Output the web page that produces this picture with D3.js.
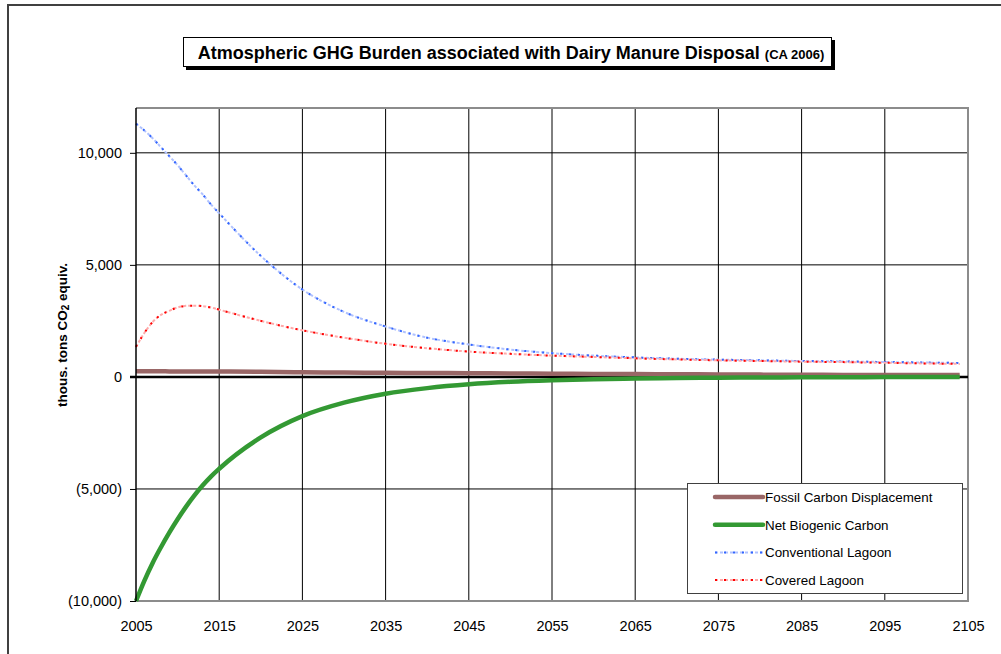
<!DOCTYPE html>
<html>
<head>
<meta charset="utf-8">
<script src="https://d3js.org/d3.v7.min.js"></script>
<style>
  body { margin: 0; background: #fff; }
  svg { display: block; font-family: Arial, "Liberation Sans", sans-serif; }
</style>
</head>
<body>
<svg id="chart" width="1001" height="654"></svg>
<script>
'use strict';

// values (thous. tons CO2 equiv.)
var years = [2005, 2006, 2007, 2008, 2009, 2010, 2011, 2012, 2013, 2014, 2015,
    2020, 2025, 2030, 2035, 2040, 2045, 2050, 2055, 2060, 2065, 2070, 2075,
    2080, 2085, 2090, 2095, 2100, 2104]

var fossilCarbon = [250, 250, 248, 248, 246, 245, 244, 243, 242, 241, 240,
    225, 205, 195, 185, 175, 165, 155, 145, 135, 125, 118, 110,
    102, 96, 90, 86, 82, 80]

var netBiogenic = [-10000, -9100, -8300, -7600, -6950, -6350, -5800, -5300, -4850, -4450, -4100,
    -2700, -1750, -1150, -750, -500, -330, -220, -150, -100, -70, -50, -35,
    -25, -18, -12, -8, -5, -3]

var conventionalLagoon = [11300, 11000, 10650, 10250, 9850, 9450, 9000, 8550, 8150, 7700, 7300,
    5400, 3900, 2900, 2250, 1750, 1450, 1220, 1060, 950, 870, 810, 770,
    740, 710, 690, 665, 640, 620]

var coveredLagoon = [1340, 1960, 2450, 2770, 2950, 3100, 3170, 3180, 3160, 3100, 3000,
    2500, 2080, 1750, 1480, 1280, 1130, 1030, 950, 890, 830, 780, 740,
    710, 680, 660, 630, 600, 580]

var xTicks = [2005, 2015, 2025, 2035, 2045, 2055, 2065, 2075, 2085, 2095, 2105]
var yTicks = [-10000, -5000, 0, 5000, 10000]

var chartTitle = 'Atmospheric GHG Burden associated with Dairy Manure Disposal'
var chartSubTitle = '(CA 2006)'

var seriesList = [
    { name: 'Fossil Carbon Displacement', values: fossilCarbon, color: '#996666', width: 4.5 },
    { name: 'Net Biogenic Carbon', values: netBiogenic, color: '#339933', width: 4.5 },
    { name: 'Conventional Lagoon', values: conventionalLagoon, color: '#3366ff', light: '#b0c2ff', width: 2 },
    { name: 'Covered Lagoon', values: coveredLagoon, color: '#ff0000', light: '#ffaaaa', width: 2 }
]

var svg = d3.select('#chart')
var plot = { left: 136, right: 968, top: 108, bottom: 601 }

var x = d3.scaleLinear().domain([2005, 2105]).range([plot.left, plot.right])
var y = d3.scaleLinear().domain([-10000, 12000]).range([plot.bottom, plot.top])

function formatValue(v) {
    var s = d3.format(',')(Math.abs(v))
    return v < 0 ? '(' + s + ')' : s
}

function drawFrame() {
    // outer chart border (runs off the right and bottom of the picture)
    svg.append('rect')
        .attr('x', 8).attr('y', 5)
        .attr('width', 1010).attr('height', 670)
        .attr('fill', 'none')
        .attr('stroke', '#404040')
        .attr('stroke-width', 2)

    // title box with shadow
    svg.append('rect')
        .attr('x', 186).attr('y', 40)
        .attr('width', 649).attr('height', 30)
        .attr('fill', '#000')
    svg.append('rect')
        .attr('x', 183.5).attr('y', 37.5)
        .attr('width', 648).attr('height', 29)
        .attr('fill', '#fff')
        .attr('stroke', '#000')
        .attr('stroke-width', 1)

    var title = svg.append('text')
        .attr('x', 511).attr('y', 58.5)
        .attr('text-anchor', 'middle')
        .attr('font-weight', 'bold')
        .attr('font-size', 18)
        .attr('fill', '#000')
    title.append('tspan').text(chartTitle + ' ')
    title.append('tspan').attr('font-size', 13).text(chartSubTitle)
}

function drawGrid() {
    var g = svg.append('g')

    g.selectAll('line.vgrid')
        .data(xTicks.slice(1, -1))
        .enter().append('line')
        .attr('class', 'vgrid')
        .attr('x1', function(d) { return x(d) }).attr('x2', function(d) { return x(d) })
        .attr('y1', plot.top).attr('y2', plot.bottom)
        .attr('stroke', '#000')
        .attr('stroke-width', 1)

    g.selectAll('line.hgrid')
        .data([-5000, 5000, 10000])
        .enter().append('line')
        .attr('class', 'hgrid')
        .attr('x1', plot.left).attr('x2', plot.right)
        .attr('y1', function(d) { return y(d) }).attr('y2', function(d) { return y(d) })
        .attr('stroke', '#000')
        .attr('stroke-width', 1)

    // top / right / bottom plot border in grey
    g.append('path')
        .attr('d', 'M' + plot.left + ',' + plot.top + 'H' + plot.right + 'V' + plot.bottom + 'H' + plot.left)
        .attr('fill', 'none')
        .attr('stroke', '#8c8c8c')
        .attr('stroke-width', 2)
}

function drawAxes() {
    var yAxis = svg.append('g')
        .attr('transform', 'translate(' + plot.left + ',0)')
        .call(d3.axisLeft(y).tickValues(yTicks).tickSize(6).tickPadding(8).tickFormat(formatValue))
    yAxis.select('.domain').remove()
    yAxis.selectAll('.tick line').attr('stroke', '#000')
    yAxis.selectAll('.tick text')
        .attr('font-size', 14.5)
        .attr('font-family', 'Arial, "Liberation Sans", sans-serif')
        .attr('fill', '#000')

    svg.append('line')
        .attr('x1', plot.left).attr('x2', plot.left)
        .attr('y1', plot.top).attr('y2', plot.bottom)
        .attr('stroke', '#000')
        .attr('stroke-width', 1.5)

    var xAxis = svg.append('g')
        .attr('transform', 'translate(0,' + plot.bottom + ')')
        .call(d3.axisBottom(x).tickValues(xTicks).tickSize(0).tickPadding(20).tickFormat(d3.format('d')))
    xAxis.select('.domain').remove()
    xAxis.selectAll('.tick text')
        .attr('font-size', 14.5)
        .attr('font-family', 'Arial, "Liberation Sans", sans-serif')
        .attr('fill', '#000')

    var label = svg.append('text')
        .attr('transform', 'translate(67,335) rotate(-90)')
        .attr('text-anchor', 'middle')
        .attr('font-weight', 'bold')
        .attr('font-size', 13.5)
        .attr('fill', '#000')
    label.append('tspan').text('thous. tons CO')
    label.append('tspan').attr('font-size', 10).attr('dy', 2).text('2')
    label.append('tspan').attr('dy', -2).text(' equiv.')
}

function drawSeries() {
    var line = d3.line()
        .x(function(d, i) { return x(years[i]) })
        .y(function(d) { return y(d) })
        .curve(d3.curveMonotoneX)

    seriesList.forEach(function(s) {
        if (s.light) {
            svg.append('path')
                .attr('d', line(s.values))
                .attr('fill', 'none')
                .attr('stroke', s.light)
                .attr('stroke-width', s.width)
                .attr('stroke-dasharray', '3,2')
            svg.append('path')
                .attr('d', line(s.values))
                .attr('fill', 'none')
                .attr('stroke', s.color)
                .attr('stroke-width', s.width)
                .attr('stroke-dasharray', '2,7')
        }
    })

    // zero line sits over the lagoon lines but under the carbon lines
    svg.append('line')
        .attr('x1', plot.left - 6).attr('x2', plot.right)
        .attr('y1', y(0)).attr('y2', y(0))
        .attr('stroke', '#000')
        .attr('stroke-width', 2.5)

    seriesList.forEach(function(s) {
        if (!s.light) {
            svg.append('path')
                .attr('d', line(s.values))
                .attr('fill', 'none')
                .attr('stroke', s.color)
                .attr('stroke-width', s.width)
        }
    })
}

function drawLegend() {
    var box = svg.append('g').attr('transform', 'translate(687,483)')
    box.append('rect')
        .attr('x', 0.5).attr('y', 0.5)
        .attr('width', 275).attr('height', 110)
        .attr('fill', '#fff')
        .attr('stroke', '#404040')
        .attr('stroke-width', 1)

    var item = box.selectAll('g.item')
        .data(seriesList)
        .enter().append('g')
        .attr('class', 'item')
        .attr('transform', function(d, i) { return 'translate(0,' + (14 + i * 27.7) + ')' })

    item.each(function(d) {
        var g = d3.select(this)
        if (d.light) {
            g.append('line')
                .attr('x1', 28).attr('x2', 76).attr('y1', 0).attr('y2', 0)
                .attr('stroke', d.light).attr('stroke-width', 2).attr('stroke-dasharray', '3,2')
            g.append('line')
                .attr('x1', 28).attr('x2', 76).attr('y1', 0).attr('y2', 0)
                .attr('stroke', d.color).attr('stroke-width', 2).attr('stroke-dasharray', '2,7')
        } else {
            g.append('line')
                .attr('x1', 28).attr('x2', 76).attr('y1', 0).attr('y2', 0)
                .attr('stroke', d.color).attr('stroke-width', 4.5).attr('stroke-linecap', 'round')
        }
        g.append('text')
            .attr('x', 78).attr('y', 5)
            .attr('font-size', 13.4)
            .attr('fill', '#000')
            .text(d.name)
    })
}

drawFrame()
drawGrid()
drawSeries()
drawAxes()
drawLegend()
</script>
</body>
</html>
